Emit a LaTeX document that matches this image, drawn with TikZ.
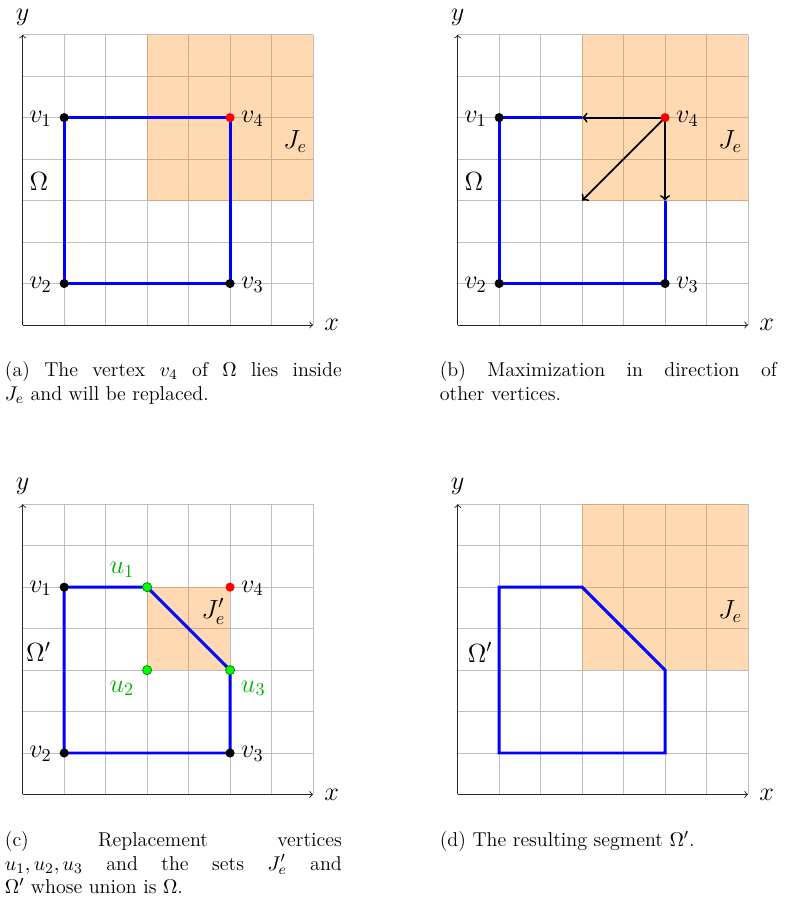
\documentclass[tikz,border=0pt]{standalone}
\tikzset{
  gridline/.style={gray!50, line width=0.5pt},
  axisline/.style={->, black!85, line width=0.5pt},
  jset/.style={fill=orange, fill opacity=0.3},
  seg/.style={blue, line width=1.6pt, line join=miter},
  maxarrow/.style={->, black, line width=1pt},
  vdot/.style={circle, fill=black, inner sep=0pt, minimum size=5pt},
  rdot/.style={circle, fill=red, inner sep=0pt, minimum size=5pt},
  gdot/.style={circle, fill=green, draw=green!50!black, line width=0.4pt, inner sep=0pt, minimum size=5pt},
  lab/.style={font=\fontsize{14}{17}\selectfont, inner sep=0pt},
  glab/.style={lab, text=green!70!black},
  capt/.style={text width=6.5cm, align=justify, anchor=base west, inner sep=0pt, font=\fontsize{11}{12.8}\selectfont},
  panel/.style={x=0.8cm, y=0.8cm}
}
\newcommand\panelbase[1]{%
  \draw[gridline, step=0.8cm] (0,0) grid (7,7);
  \coordinate (#1-o) at (0,0);
  \coordinate (#1-xe) at (7,0);
  \coordinate (#1-ye) at (0,7);
  \draw[axisline] (#1-o) -- (#1-xe);
  \draw[axisline] (#1-o) -- (#1-ye);
  \node[lab] (#1-xl) at (7.45,0) {$x$};
  \node[lab] (#1-yl) at (0,7.42) {$y$};
  \coordinate (#1-p1) at (1,5);
  \coordinate (#1-p2) at (1,1);
  \coordinate (#1-p3) at (5,1);
  \coordinate (#1-p4) at (5,5);
}
\newcommand\vlabels[1]{%
  \node[lab] (#1-l1) at (0.43,4.97) {$v_1$};
  \node[lab] (#1-l4) at (5.54,4.97) {$v_4$};
  \node[lab] (#1-l2) at (0.43,0.97) {$v_2$};
  \node[lab] (#1-l3) at (5.54,0.97) {$v_3$};
}
\begin{document}
\begin{tikzpicture}
\useasboundingbox (0,0) rectangle (15.162,17.612);
% ---------- (a)
\begin{scope}[panel, shift={(0.438cm,11.343cm)}]
  \panelbase{a}
  \fill[jset] (3,3) rectangle (7,7);
  \draw[seg] (a-p1) -- (a-p4) -- (a-p3) -- (a-p2) -- cycle;
  \node[vdot] (a-v1) at (a-p1) {};
  \node[vdot] (a-v2) at (a-p2) {};
  \node[vdot] (a-v3) at (a-p3) {};
  \node[rdot] (a-v4) at (a-p4) {};
  \vlabels{a}
  \node[lab] (a-je) at (6.57,4.42) {$J_e$};
  \node[lab] (a-om) at (0.39,3.46) {$\Omega$};
\end{scope}
% ---------- (b)
\begin{scope}[panel, shift={(8.829cm,11.343cm)}]
  \panelbase{b}
  \fill[jset] (3,3) rectangle (7,7);
  \coordinate (b-q1) at (3,5);
  \coordinate (b-q2) at (3,3);
  \coordinate (b-q3) at (5,3);
  \draw[seg] (b-q1) -- (b-p1) -- (b-p2) -- (b-p3) -- (b-q3);
  \draw[maxarrow] (b-p4) -- (b-q1);
  \draw[maxarrow] (b-p4) -- (b-q2);
  \draw[maxarrow] (b-p4) -- (b-q3);
  \node[vdot] (b-v1) at (b-p1) {};
  \node[vdot] (b-v2) at (b-p2) {};
  \node[vdot] (b-v3) at (b-p3) {};
  \node[rdot] (b-v4) at (b-p4) {};
  \vlabels{b}
  \node[lab] (b-je) at (6.57,4.42) {$J_e$};
  \node[lab] (b-om) at (0.39,3.46) {$\Omega$};
\end{scope}
% ---------- (c)
\begin{scope}[panel, shift={(0.438cm,2.286cm)}]
  \panelbase{c}
  \fill[jset] (3,3) rectangle (5,5);
  \coordinate (c-q1) at (3,5);
  \coordinate (c-q2) at (3,3);
  \coordinate (c-q3) at (5,3);
  \draw[seg] (c-p1) -- (c-q1) -- (c-q3) -- (c-p3) -- (c-p2) -- cycle;
  \node[vdot] (c-v1) at (c-p1) {};
  \node[vdot] (c-v2) at (c-p2) {};
  \node[vdot] (c-v3) at (c-p3) {};
  \node[rdot] (c-v4) at (c-p4) {};
  \node[gdot] (c-u1) at (c-q1) {};
  \node[gdot] (c-u2) at (c-q2) {};
  \node[gdot] (c-u3) at (c-q3) {};
  \vlabels{c}
  \node[glab] (c-ul1) at (2.39,5.41) {$u_1$};
  \node[glab] (c-ul2) at (2.39,2.56) {$u_2$};
  \node[glab] (c-ul3) at (5.56,2.56) {$u_3$};
  \node[lab] (c-je) at (4.60,4.41) {$J_e'$};
  \node[lab] (c-om) at (0.38,3.44) {$\Omega'$};
\end{scope}
% ---------- (d)
\begin{scope}[panel, shift={(8.829cm,2.286cm)}]
  \panelbase{d}
  \fill[jset] (3,3) rectangle (7,7);
  \coordinate (d-q1) at (3,5);
  \coordinate (d-q3) at (5,3);
  \draw[seg] (d-p1) -- (d-q1) -- (d-q3) -- (d-p3) -- (d-p2) -- cycle;
  \node[lab] (d-je) at (6.57,4.42) {$J_e$};
  \node[lab] (d-om) at (0.54,3.42) {$\Omega'$};
\end{scope}
% ---------- captions
\node[capt] (capa) at (0.087,10.345) {(a) The vertex $v_4$ of $\Omega$ lies inside\linebreak $J_e$ and will be replaced.};
\node[capt] (capb) at (8.478,10.345) {(b) Maximization in direction of\linebreak other vertices.};
\node[capt] (capc) at (0.087,1.279) {(c) Replacement vertices\linebreak $u_1, u_2, u_3$ and the sets $J_e'$ and\linebreak $\Omega'$ whose union is $\Omega$.};
\node[capt] (capd) at (8.478,1.279) {(d) The resulting segment $\Omega'$.};
\end{tikzpicture}
\end{document}
